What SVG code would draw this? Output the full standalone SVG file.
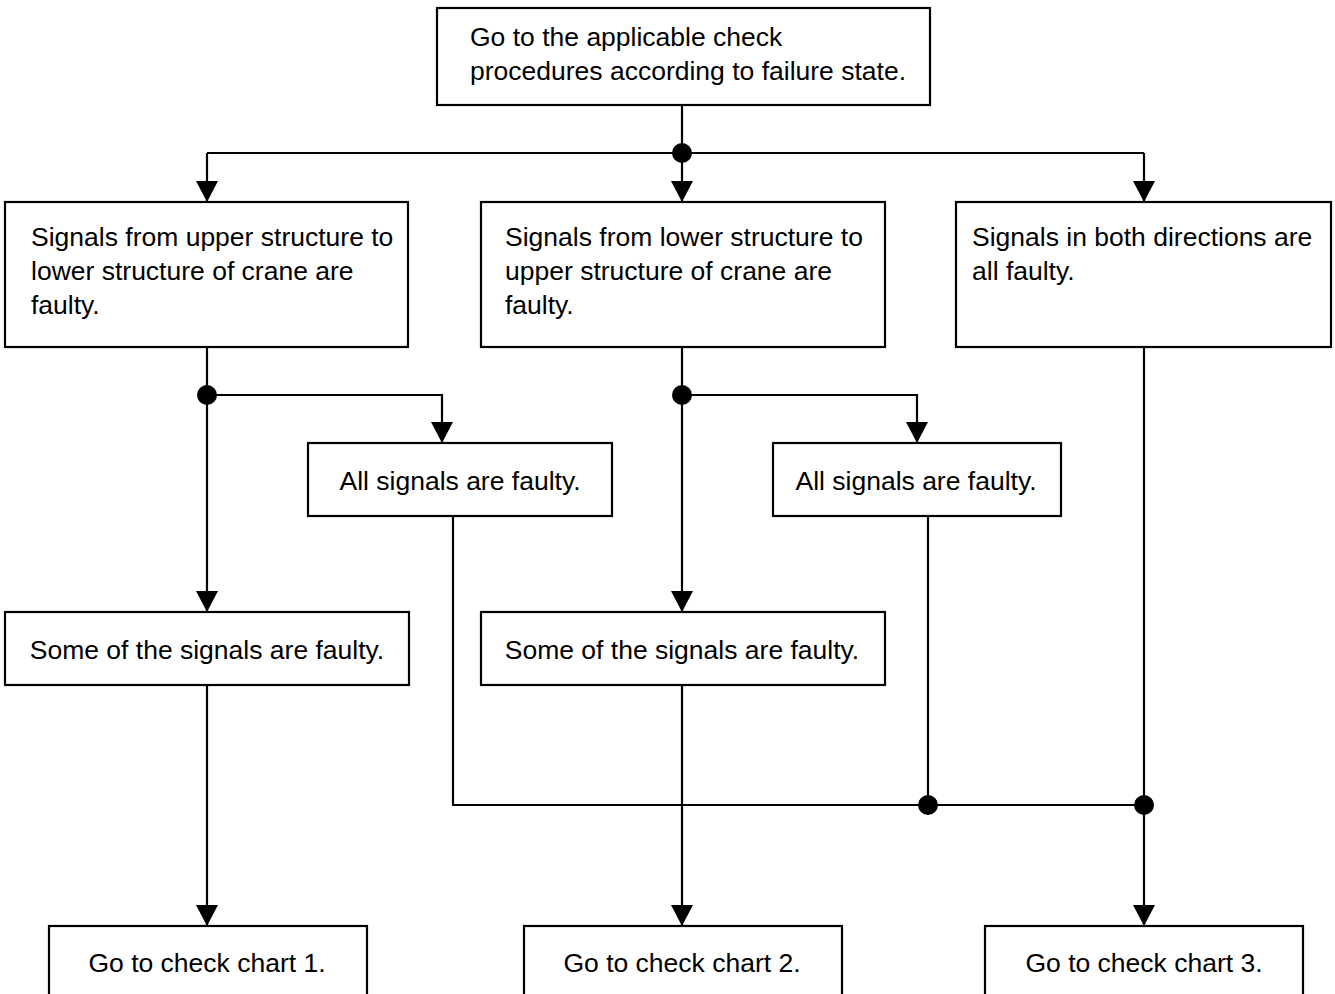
<svg xmlns="http://www.w3.org/2000/svg" width="1335" height="994" viewBox="0 0 1335 994">
<style>
.box{fill:#fff;stroke:#000;stroke-width:2.2}
.t{font-family:"Liberation Sans",Arial,sans-serif;font-size:26.5px;fill:#000}
.c{text-anchor:middle}
.ln{fill:none;stroke:#000;stroke-width:2.2}
.dot{fill:#000}
</style>
<defs>
<marker id="ah" viewBox="0 0 21 22" markerWidth="21" markerHeight="22" refX="21" refY="11" orient="auto" markerUnits="userSpaceOnUse">
<path d="M0,0 L21,11 L0,22 z" fill="#000"/>
</marker>
</defs>
<rect width="1335" height="994" fill="#fff"/>
<g id="connectors">
<path class="ln" d="M682,105 V153"/>
<path class="ln" d="M207,153 H1144"/>
<path class="ln" d="M207,153 V202" marker-end="url(#ah)"/>
<path class="ln" d="M682,153 V202" marker-end="url(#ah)"/>
<path class="ln" d="M1144,153 V202" marker-end="url(#ah)"/>
<path class="ln" d="M207,347 V612" marker-end="url(#ah)"/>
<path class="ln" d="M207,395 H442 V443" marker-end="url(#ah)"/>
<path class="ln" d="M682,347 V612" marker-end="url(#ah)"/>
<path class="ln" d="M682,395 H917 V443" marker-end="url(#ah)"/>
<path class="ln" d="M207,685 V926" marker-end="url(#ah)"/>
<path class="ln" d="M682,685 V926" marker-end="url(#ah)"/>
<path class="ln" d="M453,516 V805 H1144"/>
<path class="ln" d="M928,516 V805"/>
<path class="ln" d="M1144,347 V926" marker-end="url(#ah)"/>
<circle class="dot" cx="682" cy="153" r="10"/>
<circle class="dot" cx="207" cy="395" r="10"/>
<circle class="dot" cx="682" cy="395" r="10"/>
<circle class="dot" cx="928" cy="805" r="10"/>
<circle class="dot" cx="1144" cy="805" r="10"/>
</g>
<g id="n-start">
<rect class="box" x="437" y="8" width="493" height="97"/>
<text class="t" x="470" y="46">Go to the applicable check</text>
<text class="t" x="470" y="80">procedures according to failure state.</text>
</g>
<g id="n-up-low">
<rect class="box" x="5" y="202" width="403" height="145"/>
<text class="t" x="31" y="246">Signals from upper structure to</text>
<text class="t" x="31" y="280">lower structure of crane are</text>
<text class="t" x="31" y="314">faulty.</text>
</g>
<g id="n-low-up">
<rect class="box" x="481" y="202" width="404" height="145"/>
<text class="t" x="505" y="246">Signals from lower structure to</text>
<text class="t" x="505" y="280">upper structure of crane are</text>
<text class="t" x="505" y="314">faulty.</text>
</g>
<g id="n-both">
<rect class="box" x="956" y="202" width="375" height="145"/>
<text class="t" x="972" y="246">Signals in both directions are</text>
<text class="t" x="972" y="280">all faulty.</text>
</g>
<g id="n-all1">
<rect class="box" x="308" y="443" width="304" height="73"/>
<text class="t c" x="460" y="490">All signals are faulty.</text>
</g>
<g id="n-all2">
<rect class="box" x="773" y="443" width="288" height="73"/>
<text class="t c" x="916" y="490">All signals are faulty.</text>
</g>
<g id="n-some1">
<rect class="box" x="5" y="612" width="404" height="73"/>
<text class="t c" x="207" y="659">Some of the signals are faulty.</text>
</g>
<g id="n-some2">
<rect class="box" x="481" y="612" width="404" height="73"/>
<text class="t c" x="682" y="659">Some of the signals are faulty.</text>
</g>
<g id="n-chart1">
<rect class="box" x="49" y="926" width="318" height="90"/>
<text class="t c" x="207" y="972">Go to check chart 1.</text>
</g>
<g id="n-chart2">
<rect class="box" x="524" y="926" width="318" height="90"/>
<text class="t c" x="682" y="972">Go to check chart 2.</text>
</g>
<g id="n-chart3">
<rect class="box" x="985" y="926" width="318" height="90"/>
<text class="t c" x="1144" y="972">Go to check chart 3.</text>
</g>
</svg>
